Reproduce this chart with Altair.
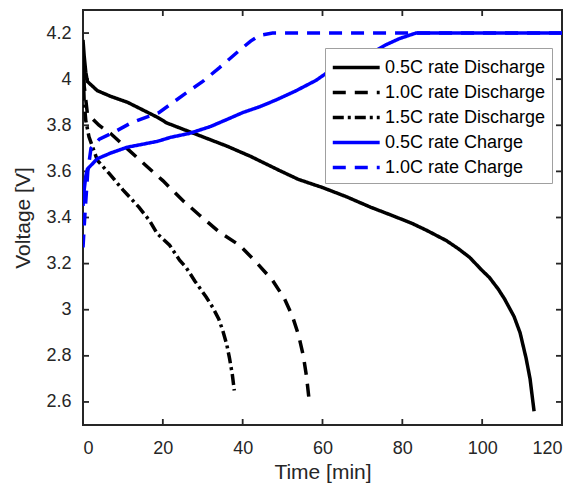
import altair as alt
import pandas as pd

# ---- data ----
names = ["0.5C rate Discharge", "1.0C rate Discharge", "1.5C rate Discharge",
         "0.5C rate Charge", "1.0C rate Charge"]
colors = ["#000000", "#000000", "#000000", "#0000FF", "#0000FF"]
dashes = [[1, 0], [13, 9], [11, 4, 3, 4], [1, 0], [13, 9]]

d05_t = [0, 0.3, 0.7, 1.1, 3.6, 7, 11.1, 14, 18.6, 21, 24, 30, 36, 42, 49.2, 54, 60, 66,
         72, 78, 82.6, 86, 91, 94, 96.8, 100, 101.8, 104, 105.6, 108, 109.5, 111, 112, 113]
d05_v = [4.17, 4.10, 4.03, 3.99, 3.95, 3.925, 3.90, 3.875, 3.835, 3.81, 3.79, 3.75, 3.71,
         3.665, 3.604, 3.565, 3.53, 3.49, 3.445, 3.405, 3.373, 3.345, 3.30, 3.265, 3.228,
         3.17, 3.14, 3.09, 3.047, 2.97, 2.90, 2.79, 2.70, 2.56]

d10_t = [0, 0.3, 1.1, 4, 7, 11, 16.1, 20, 25, 29.2, 34.2, 39.2, 43.4, 47.5, 50.5, 52.5,
         54, 55.2, 56, 56.7]
d10_v = [4.10, 3.97, 3.85, 3.80, 3.763, 3.70, 3.62, 3.56, 3.474, 3.41, 3.336, 3.28, 3.206,
         3.127, 3.047, 2.97, 2.89, 2.80, 2.71, 2.60]

d15_t = [0, 0.3, 0.7, 1.5, 3.6, 6.6, 10, 14, 16.7, 18.6, 21.7, 24.2, 25.8, 28, 30.9, 32.5,
         34, 35, 36, 36.7, 37.4, 37.9]
d15_v = [4.05, 3.90, 3.82, 3.75, 3.648, 3.59, 3.52, 3.445, 3.386, 3.33, 3.28, 3.215, 3.184,
         3.125, 3.054, 3.01, 2.96, 2.91, 2.85, 2.79, 2.72, 2.65]

c05_t = [0, 0.3, 0.7, 1.1, 3.6, 7, 11.1, 18.6, 22, 26.7, 32, 36.7, 40, 44.2, 48.4, 53.4,
         58.4, 61.3, 65, 69, 73.4, 76, 79.3, 83.4, 90, 100, 110, 120]
c05_v = [3.45, 3.52, 3.58, 3.61, 3.655, 3.68, 3.705, 3.73, 3.748, 3.765, 3.795, 3.83, 3.855,
         3.88, 3.91, 3.95, 3.995, 4.03, 4.06, 4.09, 4.125, 4.15, 4.176, 4.20, 4.20, 4.20,
         4.20, 4.20]

c10_t = [0, 0.5, 1.2, 2, 4.1, 7.8, 12, 19, 26.7, 30, 34.2, 39.2, 42, 44.2, 47.5, 60, 80,
         100, 120]
c10_v = [3.27, 3.42, 3.60, 3.70, 3.74, 3.77, 3.81, 3.855, 3.951, 3.99, 4.05, 4.125, 4.165,
         4.19, 4.20, 4.20, 4.20, 4.20, 4.20]

x_ticks = [0, 20, 40, 60, 80, 100, 120]
y_ticks = [2.6, 2.8, 3.0, 3.2, 3.4, 3.6, 3.8, 4.0, 4.2]

# ---- build tables ----
series = [(names[0], d05_t, d05_v), (names[1], d10_t, d10_v), (names[2], d15_t, d15_v),
          (names[3], c05_t, c05_v), (names[4], c10_t, c10_v)]
rows = []
for i, (n, ts, vs) in enumerate(series):
    for k, (t, v) in enumerate(zip(ts, vs)):
        rows.append({"series": n, "order": i, "k": k, "t": t, "v": v})
df = pd.DataFrame(rows)
xt = pd.DataFrame({"t": x_ticks})
yt = pd.DataFrame({"v": y_ticks})

W, H = 479, 415
FONT = "Liberation Sans"
AX = "#262626"

xscale = alt.Scale(domain=[0, 120], nice=False, zero=False)
yscale = alt.Scale(domain=[2.5, 4.3], nice=False, zero=False)
xaxis = alt.Axis(values=x_ticks, format="~r")
yaxis = alt.Axis(values=y_ticks, format="~r")
XT = "Time [min]"
YT = "Voltage [V]"

legend = alt.Legend(
    title=None, orient="none", legendX=242, legendY=38,
    symbolType="M-1,0H3", symbolSize=550, symbolStrokeWidth=3.5,
    labelFont=FONT, labelFontSize=18, labelColor="#000000", labelOffset=27,
    rowPadding=2, padding=6, strokeColor="#A0A0A0", fillColor="#FFFFFF",
    labelLimit=400,
)

lines = alt.Chart(df).mark_line(strokeWidth=3.5, clip=True).encode(
    x=alt.X("t:Q", scale=xscale, title=XT, axis=xaxis),
    y=alt.Y("v:Q", scale=yscale, title=YT, axis=yaxis),
    color=alt.Color("series:N", scale=alt.Scale(domain=names, range=colors), legend=legend),
    strokeDash=alt.StrokeDash("series:N", scale=alt.Scale(domain=names, range=dashes),
                              legend=legend),
    detail="series:N",
    order="k:Q",
)

tick_style = dict(color=AX, strokeWidth=1.8)
xb = alt.Chart(xt).mark_rule(**tick_style).encode(
    x=alt.X("t:Q", scale=xscale, title=XT, axis=xaxis), y=alt.value(H), y2=alt.value(H - 6))
xtop = alt.Chart(xt).mark_rule(**tick_style).encode(
    x=alt.X("t:Q", scale=xscale, title=XT, axis=xaxis), y=alt.value(0), y2=alt.value(6))
yl = alt.Chart(yt).mark_rule(**tick_style).encode(
    y=alt.Y("v:Q", scale=yscale, title=YT, axis=yaxis), x=alt.value(0), x2=alt.value(6))
yr = alt.Chart(yt).mark_rule(**tick_style).encode(
    y=alt.Y("v:Q", scale=yscale, title=YT, axis=yaxis), x=alt.value(W), x2=alt.value(W - 6))

chart = alt.layer(xb, xtop, yl, yr, lines).properties(
    width=W, height=H,
    autosize=alt.AutoSizeParams(type="none"),
    padding={"left": 75, "top": 2, "right": 16, "bottom": 58},
    background="#FFFFFF",
).configure_view(
    stroke=AX, strokeWidth=2,
).configure_axis(
    labelFont=FONT, labelFontSize=18, labelColor=AX,
    titleFont=FONT, titleFontSize=21, titleColor=AX, titleFontWeight="normal",
    domain=False, ticks=False, tickSize=0, grid=False,
).configure_axisX(
    labelPadding=14, titlePadding=4,
).configure_axisY(
    labelPadding=12, titlePadding=12,
)

chart.save("out.html", embed_options={"renderer": "svg", "actions": False})
